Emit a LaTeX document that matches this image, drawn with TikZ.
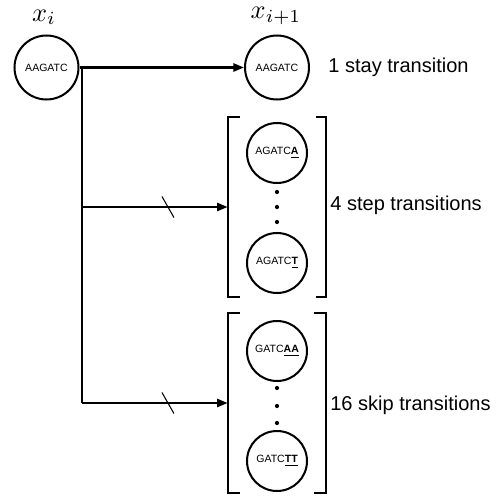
\documentclass[tikz,border=0pt]{standalone}
\usepackage{fontspec}
\setmainfont{Liberation Sans}
\usetikzlibrary{arrows.meta}
\begin{document}
\begin{tikzpicture}[x=0.02cm,y=-0.02cm,
  state/.style={circle,draw,line width=1.15pt,inner sep=0pt,minimum size=1.2cm,
    font=\fontsize{6}{7}\selectfont},
  bigstate/.style={state,minimum size=1.28cm},
  lbl/.style={anchor=west,inner sep=0pt,font=\fontsize{11.4}{13}\selectfont},
  mathlbl/.style={inner sep=0pt,anchor=base},
  arr/.style={line width=1.25pt,-{Triangle[length=6pt,width=4.6pt]}},
  brk/.style={line width=1.15pt},
  slash/.style={line width=0.6pt},
  dotmark/.style={circle,fill,inner sep=0pt,minimum size=2.4pt},
  group/.style={inner sep=0pt,minimum width=1.96cm,minimum height=3.6cm}]
\useasboundingbox (0,0) rectangle (500,497);

% top states
\node[bigstate] (xi) at (46.5,67.5) {AAGATC};
\node[bigstate] (xn) at (277,67.5) {AAGATC};
\node[mathlbl] (lxi) at (44,21) {\scalebox{1.5}{$x_i$}};
\node[mathlbl] (lxn) at (276,18.5) {\scalebox{1.5}{$x_{i+1}$}};
\node[lbl] (tstay) at (328,67) {1 stay transition};

% step group
\node[group] (stepbox) at (277,207) {};
\node[state] (sa) at (277,153) {AGATC\underline{\textbf{A}}};
\node[dotmark] (sd1) at (277,192) {};
\node[dotmark] (sd2) at (277,207) {};
\node[dotmark] (sd3) at (277,222) {};
\node[state] (st) at (277,263) {AGATC\underline{\textbf{T}}};
\draw[brk] ([xshift=12*0.02cm]stepbox.north west) -- (stepbox.north west) -- (stepbox.south west) -- ([xshift=12*0.02cm]stepbox.south west);
\draw[brk] ([xshift=-10*0.02cm]stepbox.north east) -- (stepbox.north east) -- (stepbox.south east) -- ([xshift=-10*0.02cm]stepbox.south east);
\node[lbl] (tstep) at (330,205) {4 step transitions};

% skip group
\node[group] (skipbox) at (277,403) {};
\node[state] (ka) at (277,351) {GATC\underline{\textbf{AA}}};
\node[dotmark] (kd1) at (277,388) {};
\node[dotmark] (kd2) at (277,406) {};
\node[dotmark] (kd3) at (277,423) {};
\node[state] (kt) at (277,461) {GATC\underline{\textbf{TT}}};
\draw[brk] ([xshift=12*0.02cm]skipbox.north west) -- (skipbox.north west) -- (skipbox.south west) -- ([xshift=12*0.02cm]skipbox.south west);
\draw[brk] ([xshift=-12*0.02cm]skipbox.north east) -- (skipbox.north east) -- (skipbox.south east) -- ([xshift=-12*0.02cm]skipbox.south east);
\node[lbl] (tskip) at (330,405) {16 skip transitions};

% connectors
\coordinate (split) at (82,67.5);
\draw[arr] (xi.east) -- (xn.west);
\draw[line width=1.25pt] (split) -- (split |- skipbox.west);
\draw[arr] (split |- stepbox.west) -- coordinate[pos=0.59] (s1) (stepbox.west);
\draw[arr] (split |- skipbox.west) -- coordinate[pos=0.59] (s2) (skipbox.west);
\draw[slash] (s1) ++(-6,-10.5) -- ++(12,21);
\draw[slash] (s2) ++(-6,-10.5) -- ++(12,21);
\end{tikzpicture}
\end{document}
